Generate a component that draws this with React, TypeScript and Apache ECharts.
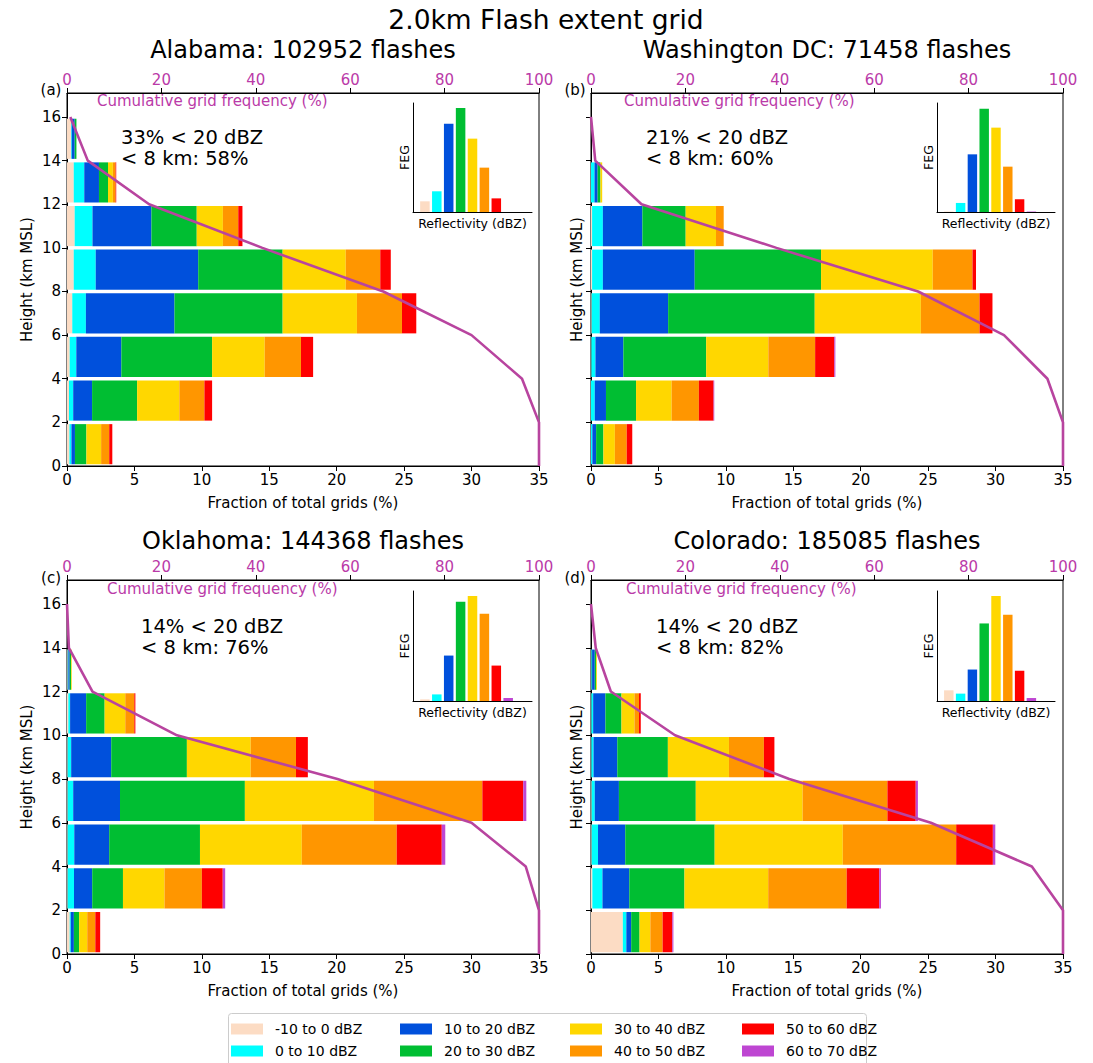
import React, { useEffect, useRef } from "react";
import * as echarts from "echarts";

// ---------- data ----------
const classLabels = ["-10 to 0 dBZ", "0 to 10 dBZ", "10 to 20 dBZ", "20 to 30 dBZ", "30 to 40 dBZ", "40 to 50 dBZ", "50 to 60 dBZ", "60 to 70 dBZ"];
const classColors = ["#FCDCC4", "#00FFFF", "#0050DC", "#00BE32", "#FFD700", "#FF9600", "#FF0000", "#BE46D2"];
const binBottoms = [0, 2, 4, 6, 8, 10, 12, 14];
const yTicks = [0, 2, 4, 6, 8, 10, 12, 14, 16];
const cumHeights = [16, 14, 12, 10, 8, 6, 4, 2, 0];
const insetCenters = [-5, 5, 15, 25, 35, 45, 55, 65];

// rows = reflectivity classes, columns = height bins 0-2 ... 14-16 km
const alabamaBars = [
  [0.18, 0.15, 0.2, 0.39, 0.5, 0.57, 0.5, 0.3],
  [0.15, 0.31, 0.49, 1.01, 1.63, 1.32, 0.78, 0.05],
  [0.26, 1.4, 3.34, 6.57, 7.6, 4.37, 1.09, 0.22],
  [0.85, 3.34, 6.73, 8.02, 6.26, 3.36, 0.67, 0.13],
  [1.09, 3.13, 3.9, 5.51, 4.68, 1.94, 0.36, 0],
  [0.6, 1.86, 2.69, 3.34, 2.56, 1.14, 0.2, 0],
  [0.23, 0.57, 0.9, 1.06, 0.78, 0.31, 0.05, 0],
  [0, 0, 0, 0, 0, 0, 0, 0],
];
const washingtonBars = [
  [0, 0, 0.03, 0.05, 0.08, 0.08, 0, 0],
  [0.1, 0.28, 0.3, 0.6, 0.8, 0.8, 0.26, 0],
  [0.28, 0.83, 2.07, 5.07, 6.81, 2.93, 0.23, 0],
  [0.54, 2.23, 6.14, 10.87, 9.37, 3.21, 0.21, 0],
  [0.85, 2.64, 4.61, 7.87, 8.28, 2.25, 0.13, 0],
  [0.88, 2.02, 3.47, 4.35, 2.95, 0.57, 0, 0],
  [0.41, 1.09, 1.42, 0.96, 0.26, 0, 0, 0],
  [0, 0.05, 0.08, 0, 0, 0, 0, 0],
];
const oklahomaBars = [
  [0.2, 0.05, 0.05, 0.05, 0.05, 0.1, 0.05, 0],
  [0.08, 0.47, 0.49, 0.41, 0.26, 0.13, 0.05, 0],
  [0.23, 1.35, 2.59, 3.47, 2.97, 1.19, 0.1, 0],
  [0.39, 2.28, 6.73, 9.26, 5.61, 1.37, 0.1, 0],
  [0.6, 3.08, 7.55, 9.57, 4.73, 1.53, 0.05, 0],
  [0.6, 2.77, 7.04, 8.04, 3.36, 0.67, 0, 0],
  [0.36, 1.55, 3.34, 3.03, 0.88, 0.08, 0, 0],
  [0, 0.18, 0.26, 0.23, 0, 0, 0, 0],
];
const coloradoBars = [
  [2.36, 0.1, 0.05, 0.05, 0.03, 0.03, 0.03, 0],
  [0.26, 0.75, 0.47, 0.23, 0.16, 0.13, 0.05, 0],
  [0.36, 1.99, 2.02, 1.79, 1.76, 0.91, 0.2, 0],
  [0.62, 4.09, 6.63, 5.7, 3.75, 1.19, 0.1, 0],
  [0.8, 6.21, 9.5, 7.92, 4.53, 0.96, 0.06, 0],
  [0.91, 5.82, 8.41, 6.29, 2.59, 0.34, 0, 0],
  [0.72, 2.41, 2.72, 2.1, 0.78, 0.13, 0, 0],
  [0.08, 0.13, 0.18, 0.16, 0, 0, 0, 0],
];

// cumulative grid frequency (%) at cumHeights
const alabamaCum = [0.7, 4.4, 17.4, 41.4, 67.0, 85.7, 96.4, 100, 100];
const washingtonCum = [0, 0.9, 10.7, 39.3, 69.3, 87.5, 96.7, 100, 100];
const oklahomaCum = [0, 0.4, 5.4, 23.3, 57.3, 85.7, 97.2, 100, 100];
const coloradoCum = [0, 1.0, 4.2, 17.8, 42.0, 72.0, 93.4, 100, 100];

// inset FEG (relative, % of inset axis height)
const alabamaFEG = [9.8, 19.0, 81.0, 95.4, 67.3, 40.7, 12.5, 0];
const washingtonFEG = [0.4, 8.3, 52.9, 94.8, 77.4, 41.6, 11.6, 0.4];
const oklahomaFEG = [1.5, 6.0, 41.3, 90.3, 95.4, 79.3, 32.2, 2.7];
const coloradoFEG = [9.7, 6.7, 28.6, 70.5, 95.4, 78.4, 27.4, 2.7];

const panelTitles = ["Alabama: 102952 flashes", "Washington DC: 71458 flashes", "Oklahoma: 144368 flashes", "Colorado: 185085 flashes"];
const panelLetters = ["(a)", "(b)", "(c)", "(d)"];
const noteLine1 = ["33% < 20 dBZ", "21% < 20 dBZ", "14% < 20 dBZ", "14% < 20 dBZ"];
const noteLine2 = ["< 8 km: 58%", "< 8 km: 60%", "< 8 km: 76%", "< 8 km: 82%"];
const barSets = [alabamaBars, washingtonBars, oklahomaBars, coloradoBars];
const cumSets = [alabamaCum, washingtonCum, oklahomaCum, coloradoCum];
const fegSets = [alabamaFEG, washingtonFEG, oklahomaFEG, coloradoFEG];

// ---------- layout ----------
const MAG = "#BA3AA8";
const LINE = "#B8449F";
const FONT = "DejaVu Sans";
const mainGrids = [
  { left: 67, top: 93, width: 472, height: 373 },
  { left: 591, top: 93, width: 472, height: 373 },
  { left: 67, top: 580, width: 472, height: 374 },
  { left: 591, top: 580, width: 472, height: 374 },
];
const insetGrids = [
  { left: 413, top: 103, width: 119, height: 109 },
  { left: 937, top: 103, width: 118, height: 109 },
  { left: 413, top: 591, width: 119, height: 110 },
  { left: 937, top: 591, width: 118, height: 110 },
];
const notePos = [
  [121, 137], [646, 137], [141, 626], [656, 626],
];
const cumLabelPos = [
  [97, 101], [624, 101], [107, 589], [626, 589],
];
const letterPos = [
  [51, 90], [575, 90], [51, 578], [575, 578],
];
const titlePos = [
  [303, 50], [827, 50], [303, 541], [827, 541],
];

function buildOption() {
  const grid: any[] = [];
  const xAxis: any[] = [];
  const yAxis: any[] = [];
  const series: any[] = [];
  const graphic: any[] = [];
  const GAP = 0.08;

  for (let p = 0; p < 4; p++) {
    grid.push({ ...mainGrids[p], show: true, borderColor: "#000", borderWidth: 1, backgroundColor: "transparent" });
  }
  for (let p = 0; p < 4; p++) {
    grid.push({ ...insetGrids[p], show: false });
  }

  for (let p = 0; p < 4; p++) {
    xAxis.push({
      type: "value", gridIndex: p, position: "bottom", min: 0, max: 35, interval: 5,
      axisLine: { show: true, onZero: false, lineStyle: { color: "#000", width: 1 } },
      axisTick: { show: true, length: 5, lineStyle: { color: "#000" } },
      axisLabel: { show: true, color: "#000", fontSize: 15, fontFamily: FONT, margin: 6 },
      splitLine: { show: false },
      name: "Fraction of total grids (%)", nameLocation: "middle", nameGap: 29,
      nameTextStyle: { color: "#000", fontSize: 15, fontFamily: FONT },
    });
    xAxis.push({
      type: "value", gridIndex: p, position: "top", min: 0, max: 100, interval: 20,
      axisLine: { show: true, onZero: false, lineStyle: { color: "#000", width: 1 } },
      axisTick: { show: true, length: 5, lineStyle: { color: "#000" } },
      axisLabel: { show: true, color: MAG, fontSize: 15, fontFamily: FONT, margin: 6 },
      splitLine: { show: false },
    });
  }
  for (let p = 0; p < 4; p++) {
    xAxis.push({
      type: "value", gridIndex: 4 + p, min: -15, max: 85,
      axisLine: { show: true, onZero: false, lineStyle: { color: "#000", width: 1 } },
      axisTick: { show: false }, axisLabel: { show: false }, splitLine: { show: false },
      name: "Reflectivity (dBZ)", nameLocation: "middle", nameGap: 5,
      nameTextStyle: { color: "#000", fontSize: 12.5, fontFamily: FONT, verticalAlign: "top" },
    });
  }
  for (let p = 0; p < 4; p++) {
    const showLabels = p % 2 === 0;
    yAxis.push({
      type: "value", gridIndex: p, min: 0, max: 17.1,
      axisLine: { show: true, onZero: false, lineStyle: { color: "#000", width: 1 } },
      axisTick: { show: true, length: 5, lineStyle: { color: "#000" }, customValues: yTicks },
      axisLabel: { show: showLabels, color: "#000", fontSize: 15, fontFamily: FONT, margin: 6, customValues: yTicks },
      splitLine: { show: false },
      name: "Height (km MSL)", nameLocation: "middle", nameGap: showLabels ? 33 : 7, nameRotate: 90,
      nameTextStyle: { color: "#000", fontSize: 15, fontFamily: FONT },
    });
  }
  for (let p = 0; p < 4; p++) {
    yAxis.push({
      type: "value", gridIndex: 4 + p, min: 0, max: 100,
      axisLine: { show: true, onZero: false, lineStyle: { color: "#000", width: 1 } },
      axisTick: { show: false }, axisLabel: { show: false }, splitLine: { show: false },
      name: "FEG", nameLocation: "middle", nameGap: 2, nameRotate: 90,
      nameTextStyle: { color: "#000", fontSize: 12.5, fontFamily: FONT },
    });
  }

  for (let p = 0; p < 4; p++) {
    const bars = barSets[p];
    const rects: any[] = [];
    for (let b = 0; b < binBottoms.length; b++) {
      let start = 0;
      for (let c = 0; c < bars.length; c++) {
        const v = bars[c][b];
        if (v > 0) {
          rects.push([start, start + v, binBottoms[b] + GAP, binBottoms[b] + 2 - GAP, c]);
          start += v;
        }
      }
    }
    series.push({
      type: "custom", coordinateSystem: "cartesian2d", xAxisIndex: 2 * p, yAxisIndex: p,
      encode: { x: [0, 1], y: [2, 3] }, z: 2,
      renderItem: (params: any, api: any) => {
        const a = api.coord([api.value(0), api.value(3)]);
        const b2 = api.coord([api.value(1), api.value(2)]);
        return {
          type: "rect",
          shape: { x: a[0], y: a[1], width: b2[0] - a[0], height: b2[1] - a[1] },
          style: { fill: classColors[api.value(4)] },
        };
      },
      data: rects,
    });
    series.push({
      type: "line", xAxisIndex: 2 * p + 1, yAxisIndex: p, z: 5, clip: false,
      symbol: "none", lineStyle: { color: LINE, width: 2.6 },
      data: cumSets[p].map((c, i) => [c, cumHeights[i]]),
    });
    const feg = fegSets[p];
    series.push({
      type: "custom", coordinateSystem: "cartesian2d", xAxisIndex: 8 + p, yAxisIndex: 4 + p,
      encode: { x: 0, y: 1 }, z: 3,
      renderItem: (params: any, api: any) => {
        const a = api.coord([api.value(0) - 4, api.value(1)]);
        const b2 = api.coord([api.value(0) + 4, 0]);
        return {
          type: "rect",
          shape: { x: a[0], y: a[1], width: b2[0] - a[0], height: b2[1] - a[1] },
          style: { fill: classColors[api.value(2)] },
        };
      },
      data: feg.map((v, i) => [insetCenters[i], v, i]),
    });

    graphic.push({
      type: "text", x: titlePos[p][0], y: titlePos[p][1],
      style: { text: panelTitles[p], fill: "#000", font: `24px "${FONT}"`, textAlign: "center", textVerticalAlign: "middle" },
    });
    graphic.push({
      type: "text", x: letterPos[p][0], y: letterPos[p][1],
      style: { text: panelLetters[p], fill: "#000", font: `15px "${FONT}"`, textAlign: "center", textVerticalAlign: "middle" },
    });
    graphic.push({
      type: "text", x: cumLabelPos[p][0], y: cumLabelPos[p][1], z: 10,
      style: { text: "Cumulative grid frequency (%)", fill: MAG, font: `15px "${FONT}"`, textAlign: "left", textVerticalAlign: "middle" },
    });
    graphic.push({
      type: "text", x: notePos[p][0], y: notePos[p][1], z: 10,
      style: { text: noteLine1[p], fill: "#000", font: `19.5px "${FONT}"`, textAlign: "left", textVerticalAlign: "middle" },
    });
    graphic.push({
      type: "text", x: notePos[p][0], y: notePos[p][1] + 21, z: 10,
      style: { text: noteLine2[p], fill: "#000", font: `19.5px "${FONT}"`, textAlign: "left", textVerticalAlign: "middle" },
    });
  }

  graphic.push({
    type: "text", x: 546, y: 19,
    style: { text: "2.0km Flash extent grid", fill: "#000", font: `26.5px "${FONT}"`, textAlign: "center", textVerticalAlign: "middle" },
  });

  // legend
  graphic.push({
    type: "rect", shape: { x: 228.5, y: 1013.5, width: 638, height: 60, r: 3 },
    style: { fill: "#fff", stroke: "#cccccc", lineWidth: 1 },
  });
  const colX = [231, 400, 570, 742];
  const rowY = [1029, 1051];
  classLabels.forEach((lab, k) => {
    const cx = colX[Math.floor(k / 2)];
    const cy = rowY[k % 2];
    graphic.push({ type: "rect", shape: { x: cx, y: cy - 5.5, width: 32, height: 11 }, style: { fill: classColors[k] } });
    graphic.push({
      type: "text", x: cx + 44, y: cy,
      style: { text: lab, fill: "#000", font: `14px "${FONT}"`, textAlign: "left", textVerticalAlign: "middle" },
    });
  });

  return { animation: false, backgroundColor: "#fff", grid, xAxis, yAxis, series, graphic };
}

export default function App() {
  const ref = useRef<HTMLDivElement>(null);
  useEffect(() => {
    if (!ref.current) return;
    const chart = echarts.init(ref.current, undefined, { renderer: "svg" });
    chart.setOption(buildOption() as any);
    return () => chart.dispose();
  }, []);
  return <div ref={ref} style={{ position: "fixed", left: 0, top: 0, width: 1093, height: 1063 }} />;
}
